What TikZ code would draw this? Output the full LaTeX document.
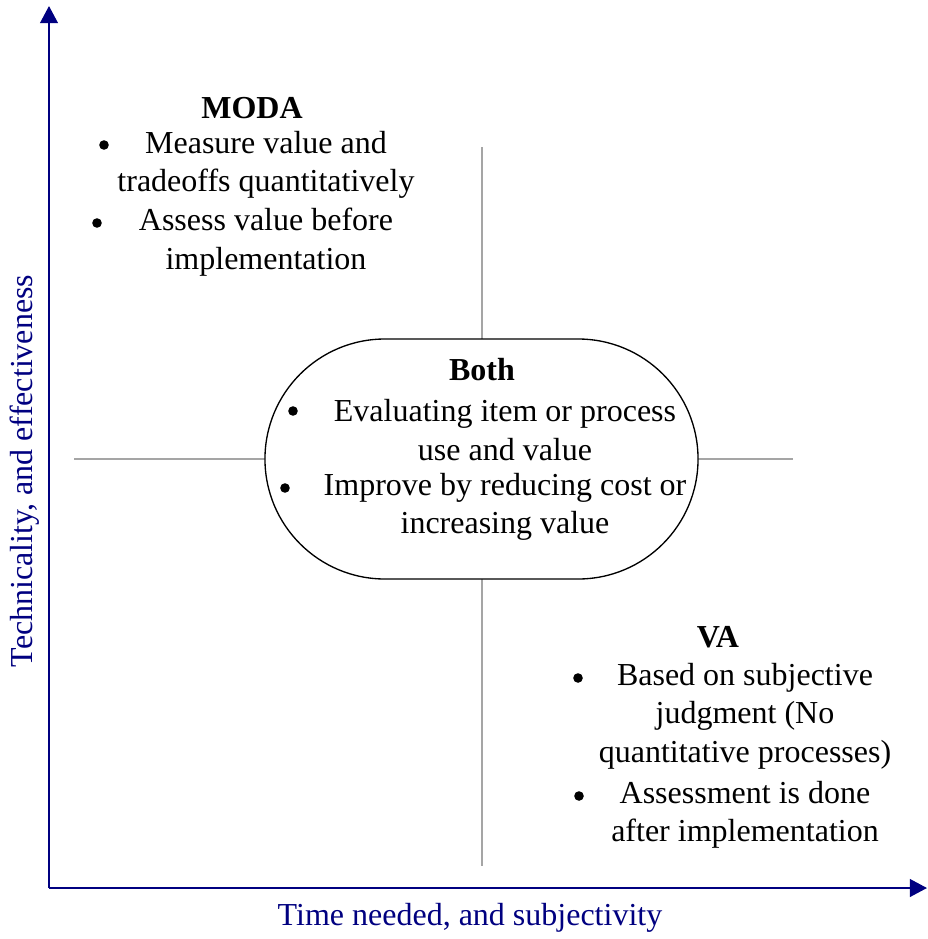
\documentclass[tikz,border=0pt]{standalone}
\usepackage{fontspec}
\setmainfont{Liberation Serif}
\definecolor{axisnavy}{RGB}{0, 0, 128}
\definecolor{quadgray}{RGB}{165, 165, 165}
\usetikzlibrary{arrows.meta}

\begin{document}
\begin{tikzpicture}[x=0.375pt, y=-0.375pt,
  heading/.style={font=\fontsize{12}{14.4}\selectfont\bfseries, inner sep=0pt},
  item/.style={font=\fontsize{12}{14.4}\selectfont, align=center, inner sep=0pt},
  bulletmark/.style={circle, fill=black, inner sep=0pt, minimum size=3.6pt},
  quadline/.style={draw=quadgray, line width=0.6pt},
  axisline/.style={draw=axisnavy, line width=0.8pt, -{Triangle[length=6.4pt, width=6.6pt]}}]
  \useasboundingbox (0,0) rectangle (927,939);

  % Quadrant lines
  \coordinate (qtop) at (482,147);
  \coordinate (qbottom) at (482,866);
  \coordinate (qleft) at (74,459);
  \coordinate (qright) at (793,459);
  \draw[quadline] (qtop) -- (qbottom);
  \draw[quadline] (qleft) -- (qright);

  % Centre shape
  \node[draw, fill=white, rounded corners=45pt, line width=0.5pt, minimum width=162.4pt, minimum height=90pt] (bothbox) at (481.5,459) {};

  % Axes
  \coordinate (origin) at (49,888);
  \coordinate (ytip) at (49,6);
  \coordinate (xtip) at (927,888);
  \draw[axisline] (origin) -- (ytip);
  \draw[axisline] (origin) -- (xtip);
  \node[font=\fontsize{12}{14.4}\selectfont, text=axisnavy, rotate=90] (ylabel) at (25,471) {Technicality, and effectiveness};
  \node[font=\fontsize{12}{14.4}\selectfont, text=axisnavy] (xlabel) at (470,918) {Time needed, and subjectivity};

  % MODA
  \node[heading] (modatitle) at (252,108) {MODA};
  \node[bulletmark] (modab1) at (104,145) {};
  \node[item] (moda1) at (266,165) {Measure value and\\tradeoffs quantitatively};
  \node[bulletmark] (modab2) at (97,223) {};
  \node[item] (moda2) at (266,242) {Assess value before\\implementation};

  % Both
  \node[heading] (bothtitle) at (482,370) {Both};
  \node[bulletmark] (bothb1) at (293,411) {};
  \node[item] (both1) at (505,430) {Evaluating item or process\\use and value};
  \node[bulletmark] (bothb2) at (285,488) {};
  \node[item] (both2) at (505,507) {Improve by reducing cost or\\increasing value};

  % VA
  \node[heading] (vatitle) at (718,637) {VA};
  \node[bulletmark] (vab1) at (578,678) {};
  \node[item] (va1) at (745,716) {Based on subjective\\judgment (No\\quantitative processes)};
  \node[bulletmark] (vab2) at (579,796) {};
  \node[item] (va2) at (745,815) {Assessment is done\\after implementation};
\end{tikzpicture}
\end{document}
